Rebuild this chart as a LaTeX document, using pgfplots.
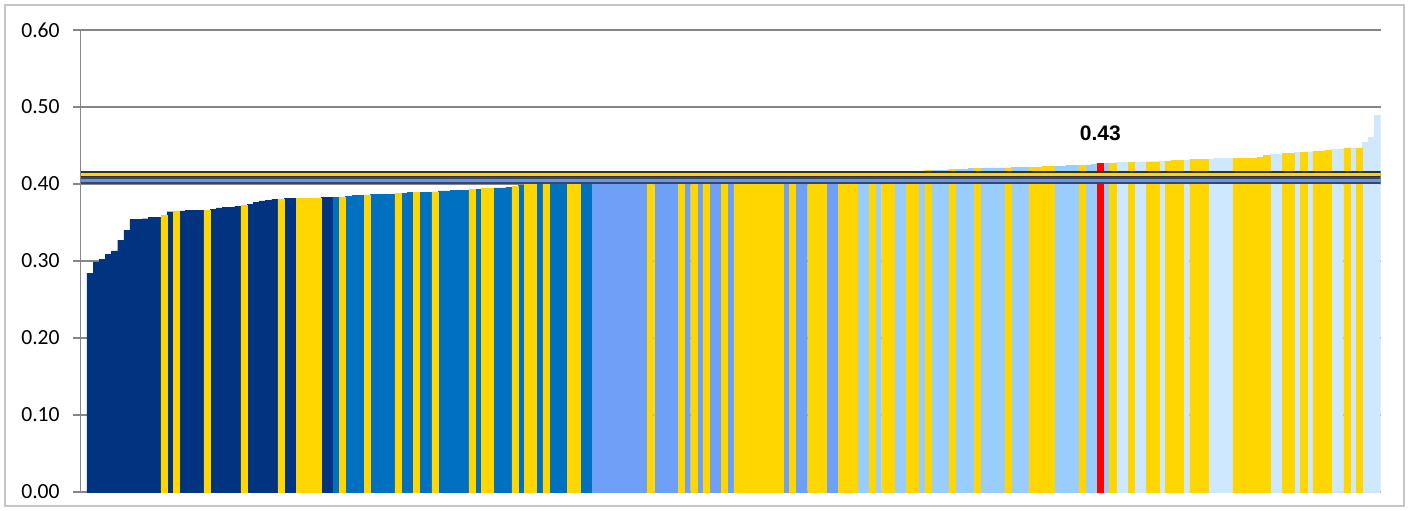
\documentclass[border=0pt]{standalone}
\usepackage{pgfplots}
\pgfplotsset{compat=1.18}
\usepackage{fontspec}
\setmainfont{Carlito}
\newfontfamily\arialfont{Liberation Sans}
\definecolor{navy}{RGB}{0,51,128}
\definecolor{midblue}{RGB}{0,112,192}
\definecolor{cornfl}{RGB}{111,160,248}
\definecolor{lightb}{RGB}{153,204,255}
\definecolor{vlight}{RGB}{206,232,255}
\definecolor{gold}{RGB}{255,214,0}
\definecolor{gridgray}{RGB}{134,134,134}
\definecolor{banddark}{RGB}{50,50,45}
\definecolor{bandbluedark}{RGB}{55,70,100}
\definecolor{bandblue}{RGB}{105,150,235}
\begin{document}
\begin{tikzpicture}
\useasboundingbox (0,0) rectangle (705pt,255pt);
\draw[gray!45, line width=1pt] (2.5pt,2pt) rectangle (702pt,252.5pt);
\begin{axis}[
  at={(40.35pt,9pt)}, anchor=south west,
  scale only axis, width=650pt, height=231pt,
  xmin=-0.5, xmax=210.5, ymin=0, ymax=0.6,
  axis lines=left,
  axis line style={-, draw=gridgray, line width=0.6pt},
  xtick=\empty,
  ytick={0,0.1,0.2,0.3,0.4,0.5,0.6},
  ymajorgrids, grid style={gridgray, line width=0.6pt},
  tick align=outside, major tick length=3.6pt,
  ytick style={gridgray, line width=0.6pt},
  yticklabel style={font=\fontsize{10.8}{12}\selectfont, xshift=-3.4pt,
    /pgf/number format/fixed, /pgf/number format/fixed zerofill,
    /pgf/number format/precision=2, /pgf/number format/assume math mode=true},
  every axis plot/.append style={ybar, bar width=1, bar shift=0pt, line width=0.15pt},
]
% navy
\addplot[fill=navy, draw=navy] coordinates {(1,0.284)(2,0.299)(3,0.302)(4,0.309)(5,0.313)(6,0.327)(7,0.340)(8,0.354)(9,0.354)(10,0.355)(11,0.357)(12,0.357)(14,0.364)(16,0.365)(17,0.366)(18,0.366)(19,0.366)(21,0.367)(22,0.369)(23,0.370)(24,0.370)(25,0.371)(27,0.374)(28,0.376)(29,0.378)(30,0.379)(31,0.380)(33,0.381)(34,0.381)(39,0.383)(40,0.383)};
% medium blue
\addplot[fill=midblue, draw=midblue] coordinates {(41,0.383)(43,0.384)(44,0.385)(45,0.385)(47,0.387)(48,0.387)(49,0.387)(50,0.387)(52,0.388)(53,0.389)(55,0.389)(56,0.389)(58,0.391)(59,0.391)(60,0.392)(61,0.392)(62,0.392)(64,0.393)(67,0.395)(68,0.395)(69,0.396)(71,0.398)(74,0.401)(76,0.402)(77,0.402)(78,0.402)(81,0.403)(82,0.403)};
% cornflower
\addplot[fill=cornfl, draw=cornfl] coordinates {(83,0.403)(84,0.403)(85,0.403)(86,0.404)(87,0.404)(88,0.404)(89,0.404)(90,0.404)(91,0.405)(93,0.405)(94,0.405)(95,0.405)(96,0.406)(98,0.406)(100,0.406)(102,0.407)(103,0.407)(105,0.407)(114,0.410)(116,0.410)(117,0.411)(121,0.412)(122,0.412)};
% light blue
\addplot[fill=lightb, draw=lightb] coordinates {(126,0.413)(127,0.413)(129,0.414)(132,0.414)(133,0.415)(136,0.417)(138,0.418)(139,0.418)(140,0.418)(142,0.419)(143,0.419)(144,0.420)(146,0.420)(147,0.421)(148,0.421)(149,0.421)(151,0.422)(152,0.422)(153,0.422)(158,0.423)(159,0.423)(160,0.424)(161,0.424)(163,0.425)(164,0.426)(166,0.427)};
% very light blue
\addplot[fill=vlight, draw=vlight] coordinates {(168,0.428)(169,0.428)(171,0.428)(172,0.429)(175,0.430)(179,0.431)(183,0.432)(184,0.433)(185,0.433)(186,0.433)(193,0.439)(194,0.439)(197,0.441)(199,0.442)(203,0.445)(204,0.445)(206,0.447)(208,0.454)(209,0.461)(210,0.489)};
% yellow
\addplot[fill=gold, draw=gold] coordinates {(13,0.359)(15,0.365)(20,0.366)(26,0.373)(32,0.380)(35,0.381)(36,0.381)(37,0.382)(38,0.382)(42,0.383)(46,0.386)(51,0.388)(54,0.389)(57,0.390)(63,0.393)(65,0.394)(66,0.394)(70,0.397)(72,0.401)(73,0.401)(75,0.401)(79,0.402)(80,0.402)(92,0.405)(97,0.406)(99,0.406)(101,0.407)(104,0.407)(106,0.408)(107,0.408)(108,0.408)(109,0.409)(110,0.409)(111,0.409)(112,0.410)(113,0.410)(115,0.410)(118,0.411)(119,0.411)(120,0.411)(123,0.412)(124,0.412)(125,0.413)(128,0.413)(130,0.414)(131,0.414)(134,0.415)(135,0.415)(137,0.418)(141,0.419)(145,0.420)(150,0.421)(154,0.422)(155,0.422)(156,0.423)(157,0.423)(162,0.424)(167,0.427)(170,0.428)(173,0.429)(174,0.429)(176,0.430)(177,0.431)(178,0.431)(180,0.432)(181,0.432)(182,0.432)(187,0.434)(188,0.434)(189,0.434)(190,0.434)(191,0.435)(192,0.437)(195,0.440)(196,0.440)(198,0.441)(200,0.443)(201,0.443)(202,0.444)(205,0.447)(207,0.447)};
% red
\addplot[fill=red, draw=red, nodes near coords, point meta=y,
  nodes near coords style={font=\arialfont\bfseries\fontsize{10.5}{12}\selectfont, text=black, anchor=south, yshift=8pt,
    /pgf/number format/fixed, /pgf/number format/precision=2, /pgf/number format/fixed zerofill,
    /pgf/number format/assume math mode=true}] coordinates {(165,0.427)};
% reference bands
\addplot[sharp plot, no markers, draw=bandbluedark, line width=3.2pt] coordinates {(-0.5,0.4045)(210.5,0.4045)};
\addplot[sharp plot, no markers, draw=bandblue, line width=1.6pt] coordinates {(-0.5,0.4050)(210.5,0.4050)};
\addplot[sharp plot, no markers, draw=banddark, line width=3.2pt] coordinates {(-0.5,0.4127)(210.5,0.4127)};
\addplot[sharp plot, no markers, draw=gold, line width=1.7pt] coordinates {(-0.5,0.4127)(210.5,0.4127)};
\end{axis}
\end{tikzpicture}
\end{document}
